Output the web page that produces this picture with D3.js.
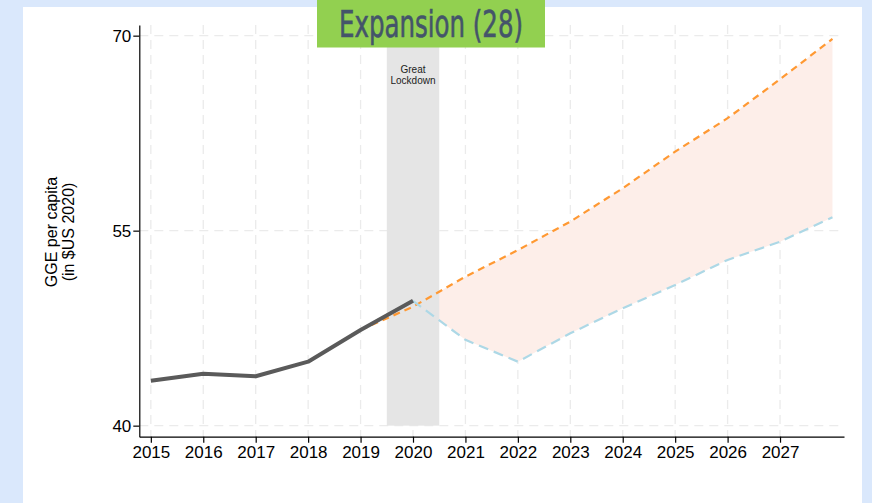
<!DOCTYPE html>
<html>
<head>
<meta charset="utf-8">
<script src="https://cdn.jsdelivr.net/npm/d3@7"></script>
<style>
  body { margin: 0; background: #dae8fc; }
  svg { display: block; }
</style>
</head>
<body>
<div id="chart"></div>
<script>
// values
const actualYears = [2015, 2016, 2017, 2018, 2019, 2020];
const actualValues = [43.46, 44.0, 43.8, 44.92, 47.36, 49.6];

const upperYears = [2019, 2020, 2021, 2022, 2023, 2024, 2025, 2026, 2027, 2028];
const upperValues = [47.36, 49.15, 51.46, 53.5, 55.7, 58.26, 61.08, 63.65, 66.65, 69.75];

const lowerYears = [2020, 2021, 2022, 2023, 2024, 2025, 2026, 2027, 2028];
const lowerValues = [49.6, 46.6, 44.92, 47.1, 49.03, 50.82, 52.75, 54.15, 56.03];

const xTicks = [2015, 2016, 2017, 2018, 2019, 2020, 2021, 2022, 2023, 2024, 2025, 2026, 2027];
const yTicks = [40, 55, 70];

const lockdown = [2019.5, 2020.5];
const title = "Expansion (28)";

const W = 872, H = 503;

const svg = d3.select("#chart").append("svg")
  .attr("width", W)
  .attr("height", H);

// white panel
svg.append("rect")
  .attr("x", 23).attr("y", 7)
  .attr("width", 839).attr("height", H - 7)
  .attr("fill", "#fff");

const x = d3.scaleLinear().domain([2014.78, 2028.22]).range([139.3, 844]);
const y = d3.scaleLinear().domain([39.15, 70.82]).range([436.7, 25]);

// grid
const grid = svg.append("g").attr("stroke", "#ebebeb").attr("stroke-width", 1.3)
  .attr("stroke-dasharray", "9,6");
grid.selectAll(".vg").data(xTicks).enter().append("line")
  .attr("x1", d => x(d)).attr("x2", d => x(d))
  .attr("y1", y.range()[1]).attr("y2", y.range()[0]);
grid.selectAll(".hg").data(yTicks).enter().append("line")
  .attr("x1", x.range()[0]).attr("x2", x.range()[1])
  .attr("y1", d => y(d)).attr("y2", d => y(d));

// shaded range between scenarios
const band = lowerYears.map((yr, i) => ({
  year: yr,
  lo: lowerValues[i],
  hi: upperValues[upperYears.indexOf(yr)]
}));
svg.append("path")
  .datum(band)
  .attr("fill", "#fdeee9")
  .attr("d", d3.area()
    .x(d => x(d.year))
    .y0(d => y(d.lo))
    .y1(d => y(d.hi)));

// Great Lockdown band
svg.append("rect")
  .attr("x", x(lockdown[0]))
  .attr("width", x(lockdown[1]) - x(lockdown[0]))
  .attr("y", y(70.82))
  .attr("height", y(40) - y(70.82))
  .attr("fill", "#e5e5e5");

svg.append("text")
  .attr("x", x(2020)).attr("y", 73)
  .attr("text-anchor", "middle")
  .style("font-family", "Liberation Sans, Arial, sans-serif")
  .style("font-size", "10px")
  .attr("fill", "#222")
  .selectAll("tspan").data(["Great", "Lockdown"]).enter().append("tspan")
  .attr("x", x(2020))
  .attr("dy", (d, i) => i === 0 ? 0 : 11)
  .text(d => d);

const line = d3.line().x(d => x(d[0])).y(d => y(d[1]));

svg.append("path")
  .datum(upperYears.map((yr, i) => [yr, upperValues[i]]))
  .attr("fill", "none")
  .attr("stroke", "#ff9933")
  .attr("stroke-width", 2.2)
  .attr("stroke-dasharray", "7,5")
  .attr("d", line);

svg.append("path")
  .datum(lowerYears.map((yr, i) => [yr, lowerValues[i]]))
  .attr("fill", "none")
  .attr("stroke", "#add8e6")
  .attr("stroke-width", 2.2)
  .attr("stroke-dasharray", "10,6")
  .attr("d", line);

svg.append("path")
  .datum(actualYears.map((yr, i) => [yr, actualValues[i]]))
  .attr("fill", "none")
  .attr("stroke", "#5a5a5a")
  .attr("stroke-width", 4)
  .attr("stroke-linejoin", "round")
  .attr("d", line);

// axes
const xAxis = svg.append("g")
  .attr("transform", `translate(0,${y.range()[0]})`)
  .call(d3.axisBottom(x).tickValues(xTicks).tickFormat(d3.format("d")).tickSize(6).tickPadding(3).tickSizeOuter(0));
const yAxis = svg.append("g")
  .attr("transform", `translate(${x.range()[0]},0)`)
  .call(d3.axisLeft(y).tickValues(yTicks).tickSize(6).tickPadding(2).tickSizeOuter(0));

[xAxis, yAxis].forEach(a => {
  a.select(".domain").attr("stroke", "#000").attr("stroke-width", 1.2);
  a.selectAll(".tick line").attr("stroke", "#000").attr("stroke-width", 1.2);
  a.selectAll("text")
    .style("font-family", "Liberation Sans, Arial, sans-serif")
    .style("font-size", "17px")
    .attr("fill", "#000");
});

// y axis title
svg.append("text")
  .attr("transform", "translate(57,232) rotate(-90)")
  .attr("text-anchor", "middle")
  .style("font-family", "Liberation Sans, Arial, sans-serif")
  .style("font-size", "16px")
  .attr("fill", "#000")
  .selectAll("tspan").data(["GGE per capita", "(in $US 2020)"]).enter().append("tspan")
  .attr("x", 0)
  .attr("dy", (d, i) => i === 0 ? 0 : 17)
  .text(d => d);

// title box
svg.append("rect")
  .attr("x", 317).attr("y", 0)
  .attr("width", 228).attr("height", 47.5)
  .attr("fill", "#92d050");
svg.append("text")
  .attr("x", 431).attr("y", 37)
  .attr("text-anchor", "middle")
  .attr("textLength", 184)
  .attr("lengthAdjust", "spacingAndGlyphs")
  .style("font-family", "DejaVu Sans Condensed, DejaVu Sans, sans-serif")
  .style("font-stretch", "condensed")
  .style("font-size", "38px")
  .attr("fill", "#44546a")
  .attr("stroke", "#44546a")
  .attr("stroke-width", 0.6)
  .text(title);
</script>
</body>
</html>
